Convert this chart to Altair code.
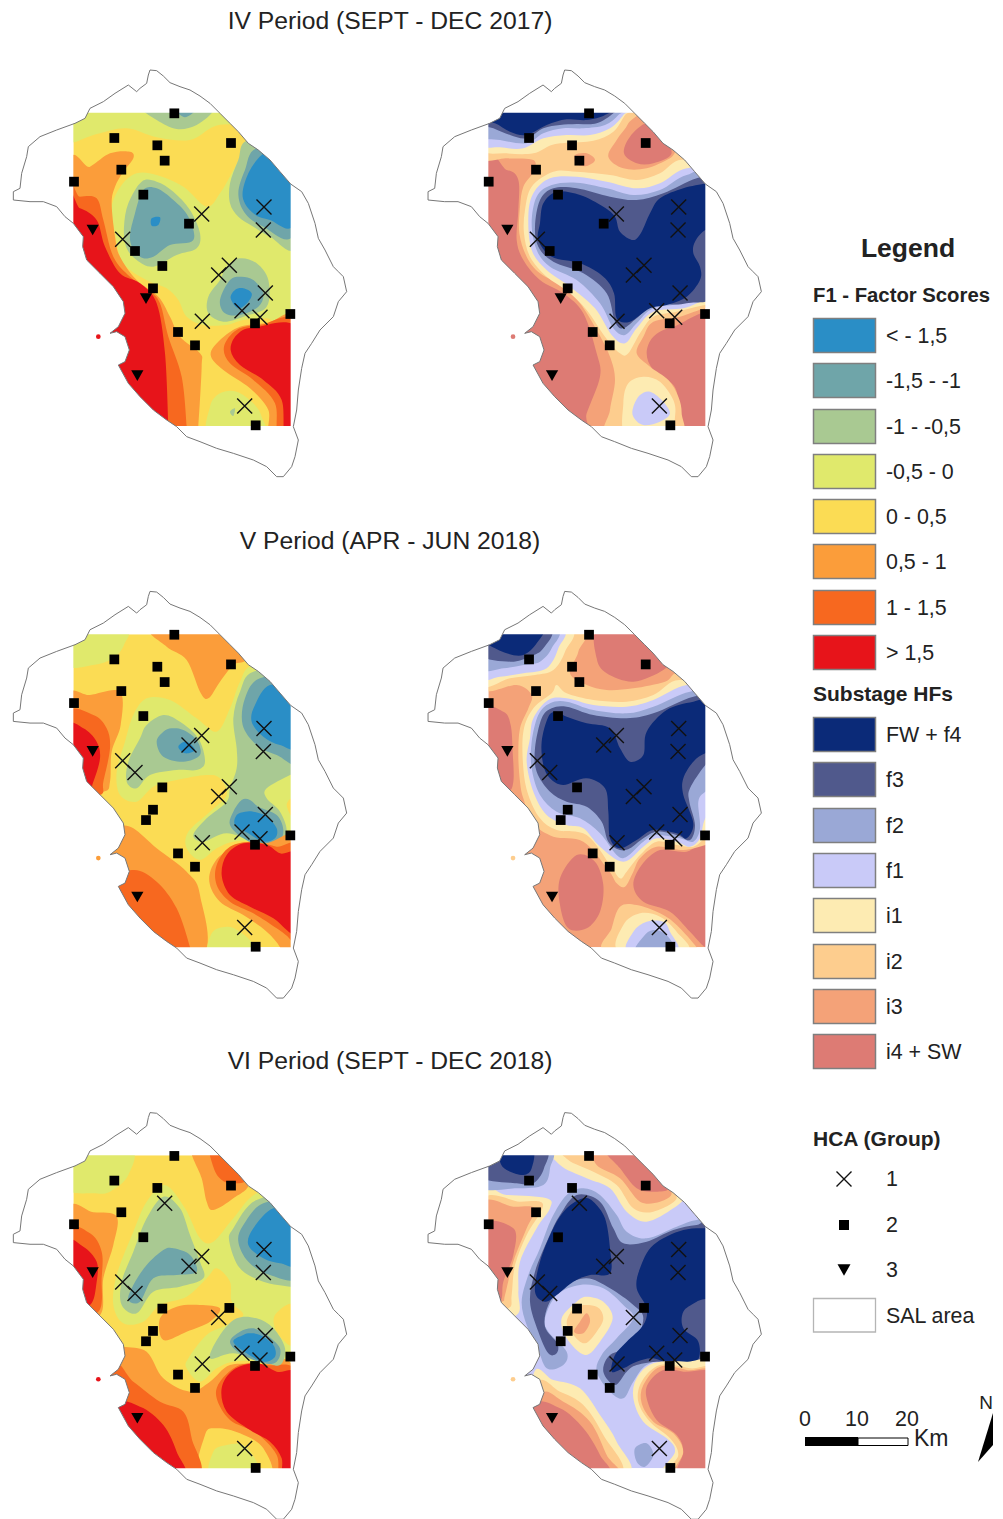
import altair as alt
import pandas as pd

alt.data_transformers.disable_max_rows()

# ---------- class names and colours ----------
F1_NAMES = ['< - 1,5', '-1,5 - -1', '-1 - -0,5', '-0,5 - 0', '0 - 0,5', '0,5 - 1', '1 - 1,5', '> 1,5']
F1_COLORS = ['#2a8ec6', '#6fa5a9', '#a9c992', '#e0e96c', '#fbdc54', '#fb9d3a', '#f7681f', '#e7141a']
HF_NAMES = ['FW + f4', 'f3', 'f2', 'f1', 'i1', 'i2', 'i3', 'i4 + SW']
HF_COLORS = ['#0b2a78', '#50598c', '#9aa8d6', '#c9caf8', '#fdebb2', '#fdcd8e', '#f4a278', '#dd7b74']
B, T, G, Y, L, O, R, D = F1_NAMES
W, F3, F2, F1, I1, I2, I3, I4 = HF_NAMES

# ---------- panels: offsets of the traced sheets ----------
PANEL_TITLES = ['IV Period (SEPT - DEC 2017)', 'V Period (APR - JUN 2018)', 'VI Period (SEPT - DEC 2018)']
TITLE_Y = [21, 540.5, 1060.5]
SHEET = [(0, 60), (420, 60), (0, 585), (420, 585), (0, 1105), (420, 1105)]
RECT = [(220, 872, 158, 1098), (205, 856, 158, 1098), (220, 872, 148, 1087),
        (205, 856, 148, 1087), (220, 872, 151, 1090), (205, 856, 151, 1090)]
SHIFT = [(0, 0), (414.7, 0), (0, 521.4), (414.7, 521.4), (0, 1042.6), (414.7, 1042.6)]
BASE = [L, I3, L, I3, L, F1]
ISLET = [D, I4, '0,5 - 1', I2, D, I2]

# ---------- coast, traced on the first panel ----------
COAST_N = [(450, 30), (470, 32), (490, 48), (510, 68), (540, 80), (570, 90), (600, 108)]
COAST_NE = [(630, 130), (660, 160), (690, 190), (715, 215), (745, 250), (775, 270), (810, 300), (840, 335), (872, 372)]
COAST_E = [(905, 395), (925, 430), (945, 490), (955, 535), (975, 570), (1000, 620), (1015, 635), (1030, 650),
           (1040, 695), (1015, 725), (1000, 770), (960, 810), (935, 850), (915, 880), (905, 925), (895, 990),
           (890, 1050), (880, 1100), (895, 1140), (885, 1190), (875, 1220), (850, 1250), (830, 1250), (800, 1220),
           (760, 1200), (700, 1180), (650, 1165), (600, 1145), (560, 1130)]
COAST_SW = [(530, 1100), (500, 1080), (460, 1050), (420, 1010), (385, 970), (355, 915), (375, 905), (388, 870),
            (375, 830), (350, 815), (330, 820), (355, 800), (375, 760), (370, 725), (340, 680), (300, 640),
            (260, 600), (248, 560), (250, 530), (220, 490)]
COAST_W = [(195, 470), (170, 440), (130, 425), (90, 425), (40, 420), (40, 395), (60, 385), (65, 340), (80, 290),
           (85, 260), (120, 230), (170, 210)]
COAST_NW = [(225, 190), (255, 175), (270, 145)]
COAST_TOP = [(310, 125), (345, 100), (385, 75), (410, 95), (420, 85), (440, 70), (445, 45)]

# ---------- contour classes, traced sheet by sheet, painted in list order ----------
MAP_1 = [
 (Y, [(200,245),(290,222),(380,205),(470,232),(570,240),(640,200),(700,195),(745,225),(720,290),(695,340),(660,400),(620,440),(550,380),(470,345),(410,340),(365,375),(335,440),(345,520),(360,590),(390,630),(450,665),(500,685),(535,720),(560,770),(610,795),(680,795),(730,780),(800,775),(890,770),(900,140),(200,140)]),
 (G, [(420,140),(470,180),(530,207),(590,195),(640,150),(600,130),(480,130)]),
 (T, [(530,150),(555,172),(585,150)]),
 (G, [(745,240),(715,300),(690,370),(690,430),(715,470),(760,500),(810,530),(890,555),(900,240)]),
 (T, [(770,265),(735,330),(715,400),(735,460),(790,500),(880,525),(900,270)]),
 (B, [(785,285),(745,340),(728,410),(760,460),(810,480),(880,495),(900,300),(840,260)]),
 (G, [(425,365),(385,430),(372,500),(378,560),(410,600),(460,620),(530,585),(590,565),(600,520),(570,450),(520,395),(470,365)]),
 (T, [(430,390),(405,460),(390,540),(420,590),(460,590),(510,555),(580,540),(565,470),(520,420),(470,385)]),
 (B, [(455,475),(480,472),(475,495),(455,497)]),
 (G, [(660,660),(625,710),(625,760),(670,785),(730,770),(800,740),(805,660),(770,610),(720,595),(680,620)]),
 (T, [(690,660),(660,720),(675,760),(720,765),(775,740),(790,700),(760,660),(725,650)]),
 (B, [(705,690),(692,715),(715,745),(745,725),(755,700),(730,685)]),
 (O, [(200,350),(270,320),(330,280),(390,275),(400,295),(370,335),(345,380),(335,430),(345,530),(360,590),(410,660),(475,710),(510,770),(540,830),(600,880),(605,920),(595,1098),(590,1130),(200,1130)]),
 (R, [(200,420),(240,410),(290,415),(310,480),(340,590),(390,650),(445,690),(480,730),(505,830),(545,950),(560,1098),(560,1130),(200,1130)]),
 (D, [(200,445),(240,445),(290,480),(315,560),(360,640),(420,670),(470,730),(495,880),(505,1098),(505,1130),(200,1130)]),
 (O, [(900,780),(800,790),(720,800),(660,840),(632,885),(670,930),(750,985),(805,1050),(810,1130),(900,1130)]),
 (R, [(900,795),(780,795),(710,810),(672,860),(690,910),(760,960),(825,1030),(835,1130),(900,1130)]),
 (D, [(900,815),(760,803),(710,825),(692,870),(720,915),(790,960),(845,1020),(855,1130),(900,1130)]),
 (Y, [(630,1130),(630,1040),(660,1000),(710,995),(760,1030),(785,1070),(790,1130)]),
 (G, [(690,1055),(705,1045),(700,1068)]),
]
MAP_2 = [
 (I4, [(180,330),(260,330),(295,360),(295,450),(290,540),(310,600),(360,660),(430,700),(490,760),(530,880),(540,950),(500,1060),(480,1130),(180,1130)]),
 (I4, [(900,775),(760,800),(700,830),(680,880),(700,930),(760,975),(775,1030),(775,1130),(900,1130)]),
 (I4, [(680,190),(630,230),(612,280),(650,310),(700,310),(755,280),(720,220)]),
 (I2, [(180,130),(640,130),(625,190),(590,240),(565,290),(610,325),(680,325),(750,295),(790,265),(900,350),(900,745),(856,745),(780,770),(700,785),(670,830),(650,880),(690,920),(745,960),(775,1010),(785,1060),(775,1130),(565,1130),(570,1050),(585,960),(570,890),(530,810),(480,730),(430,680),(360,640),(320,590),(298,520),(300,440),(310,380),(340,335),(340,300),(260,295),(180,290)]),
 (I3, [(465,285),(500,280),(525,300),(500,318),(470,312)]),
 (I1, [(180,130),(640,130),(615,165),(580,215),(520,242),(440,248),(395,255),(340,280),(260,280),(180,265)]),
 (F1, [(180,130),(625,130),(610,165),(570,205),(510,225),(440,225),(370,235),(310,265),(240,262),(180,250)]),
 (F2, [(180,130),(610,130),(595,165),(555,195),(490,205),(430,205),(370,220),(320,250),(240,240),(180,225)]),
 (F3, [(180,130),(600,130),(580,160),(530,190),(470,192),(420,195),(370,205),(320,235),(270,225),(220,205),(180,190)]),
 (W, [(240,130),(580,130),(555,165),(500,180),(440,178),(380,195),(320,225),(270,215),(225,190),(180,180)]),
 (I1, [(315,450),(335,380),(400,335),(470,335),(570,345),(650,360),(720,340),(790,300),(900,370),(900,735),(856,735),(770,755),(700,770),(660,820),(625,880),(600,880),(555,830),(500,750),(445,695),(380,650),(330,590),(312,520)]),
 (F1, [(325,470),(340,400),(390,355),(470,350),(560,365),(650,385),(720,370),(800,325),(900,345),(900,720),(856,720),(790,745),(700,755),(650,805),(615,850),(575,825),(525,745),(450,680),(380,630),(335,570)]),
 (F2, [(335,490),(350,410),(395,375),(470,368),(560,385),(640,405),(720,390),(800,345),(900,340),(900,690),(840,700),(790,730),(700,745),(650,790),(615,825),(580,805),(540,730),(470,660),(390,620),(350,570)]),
 (F3, [(345,500),(360,420),(400,385),(470,385),(570,410),(650,420),(730,400),(830,355),(900,350),(900,680),(800,730),(700,735),(650,775),(610,805),(585,785),(560,700),(490,640),(400,605),(355,560)]),
 (W, [(360,490),(370,430),(410,395),(480,405),(550,440),(585,470),(600,515),(640,540),(665,515),(690,460),(720,415),(790,385),(860,370),(900,360),(900,505),(856,510),(825,545),(820,580),(840,620),(840,660),(800,710),(740,735),(690,745),(630,785),(590,775),(582,700),(550,650),(480,610),(395,590),(355,540)]),
 (I1, [(620,1130),(610,1030),(625,970),(670,950),(720,965),(760,1020),(765,1070),(745,1130)]),
 (F1, [(640,1040),(660,1005),(690,995),(725,1020),(750,1060),(720,1085),(670,1095),(640,1070)]),
]
MAP_3 = [
 (Y, [(200,130),(375,130),(372,180),(340,220),(280,240),(200,240)]),
 (O, [(460,130),(500,185),(560,225),(600,320),(625,340),(660,290),(700,240),(740,220),(720,130)]),
 (O, [(200,340),(270,330),(360,320),(362,420),(335,500),(330,590),(310,620),(200,620)]),
 (R, [(200,390),(280,390),(320,430),(330,490),(310,590),(300,630),(200,630)]),
 (D, [(200,425),(250,430),(290,470),(300,520),(280,590),(265,610),(200,600)]),
 (O, [(350,720),(400,730),(470,790),(560,860),(600,930),(600,1120),(300,1120),(300,720)]),
 (R, [(330,900),(400,855),(470,890),(530,970),(570,1087),(570,1120),(330,1120)]),
 (Y, [(760,240),(720,290),(690,370),(650,440),(590,400),(510,345),(440,340),(400,390),(375,470),(350,560),(360,630),(410,650),(460,605),(530,585),(620,570),(660,580),(680,630),(630,680),(565,740),(560,790),(600,825),(650,790),(700,770),(760,770),(840,790),(872,765),(900,760),(900,240)]),
 (G, [(760,260),(720,320),(700,400),(710,490),(710,550),(690,610),(680,650),(620,700),(580,750),(610,770),(680,745),(760,770),(830,780),(860,740),(840,680),(800,640),(800,610),(870,570),(900,560),(900,260)]),
 (L, [(880,640),(860,660),(880,700)]),
 (T, [(780,280),(735,340),(728,420),(770,480),(830,510),(900,525),(900,280)]),
 (B, [(810,300),(765,360),(755,410),(790,455),(840,480),(900,485),(900,320)]),
 (T, [(700,680),(690,720),(730,760),(790,785),(835,775),(850,735),(830,690),(775,665),(750,645),(725,645)]),
 (B, [(710,690),(705,720),(745,745),(790,770),(825,760),(830,730),(800,695),(760,680),(735,680)]),
 (G, [(420,460),(385,530),(380,590),(410,610),(450,570),(530,555),(590,555),(615,530),(595,460),(540,410),(490,390),(440,420)]),
 (T, [(490,440),(470,470),(490,515),(550,530),(600,510),(590,465),(550,435),(515,430)]),
 (B, [(535,485),(560,470),(585,495),(555,505)]),
 (O, [(900,770),(800,775),(700,790),(645,830),(628,890),(660,950),(730,990),(800,1040),(840,1087),(840,1120),(900,1120)]),
 (Y, [(632,1120),(635,1045),(680,1025),(720,1040),(770,1087),(770,1120)]),
 (R, [(900,800),(830,785),(760,770),(690,785),(650,840),(650,900),(690,950),(760,985),(830,1030),(872,1065),(900,1120)]),
 (D, [(900,820),(840,805),(800,780),(730,775),(680,810),(665,870),(690,930),(750,965),(820,1000),(872,1045),(900,1050)]),
]
MAP_4 = [
 (I4, [(535,130),(530,220),(560,265),(640,290),(730,255),(745,220),(680,130)]),
 (I4, [(180,380),(250,380),(272,420),(278,500),(280,590),(260,620),(180,620)]),
 (I4, [(470,810),(525,830),(550,900),(540,980),(500,1030),(445,1030),(420,960),(420,880)]),
 (I4, [(900,770),(800,800),(720,795),(665,840),(640,900),(670,950),(750,980),(810,1040),(856,1087),(900,1100)]),
 (I2, [(180,130),(480,130),(475,200),(450,265),(500,300),(560,315),(640,310),(735,290),(780,265),(900,330),(900,760),(856,780),(790,795),(710,785),(660,820),(640,860),(615,905),(590,895),(565,855),(490,770),(400,755),(340,715),(310,640),(300,590),(295,510),(300,430),(325,370),(335,330),(290,300),(180,310)]),
 (I2, [(560,1100),(575,1030),(600,965),(650,960),(720,985),(770,1020),(830,1087),(830,1100)]),
 (I1, [(600,1100),(610,1020),(660,985),(720,995),(770,1040),(800,1100)]),
 (F1, [(625,1100),(640,1040),(680,1010),(730,1010),(750,1040),(770,1100)]),
 (F2, [(650,1100),(670,1055),(700,1035),(740,1050),(760,1100)]),
 (I1, [(180,130),(445,130),(435,200),(400,255),(345,270),(270,280),(180,300)]),
 (I1, [(410,300),(440,325),(520,345),(620,350),(700,330),(780,285),(900,340),(900,735),(856,760),(820,785),(770,780),(710,770),(660,810),(620,860),(600,880),(570,840),(500,750),(410,735),(360,700),(325,630),(310,550),(310,440),(340,370),(395,325)]),
 (F1, [(180,130),(420,130),(415,190),(380,250),(310,265),(240,275),(180,275)]),
 (F2, [(180,130),(405,130),(395,190),(360,230),(310,240),(250,250),(180,250)]),
 (F3, [(180,130),(385,130),(370,190),(330,215),(270,230),(180,210)]),
 (W, [(240,130),(365,130),(350,175),(310,210),(260,205),(205,180),(180,170)]),
 (F1, [(340,400),(330,460),(320,530),(340,620),(380,690),(440,720),(490,730),(540,785),(610,830),(670,785),(710,760),(770,770),(810,785),(840,760),(856,700),(900,650),(900,320),(800,300),(700,345),(620,365),(520,360),(440,340),(385,345)]),
 (F2, [(355,390),(335,470),(335,550),(360,630),(410,680),(480,700),(540,745),(590,810),(620,815),(670,770),(710,750),(780,760),(820,770),(840,730),(835,650),(856,620),(900,600),(900,330),(810,320),(700,365),(620,385),(520,375),(440,350),(390,355)]),
 (F3, [(365,400),(345,490),(350,560),(390,620),(440,650),(500,665),(545,710),(565,770),(600,795),(630,790),(670,760),(710,740),(770,750),(810,765),(825,720),(808,650),(810,610),(856,540),(900,500),(900,340),(820,335),(700,385),(620,400),(520,390),(440,365),(395,370)]),
 (W, [(385,395),(365,470),(370,540),(390,580),(430,600),(500,580),(555,610),(565,680),(570,760),(600,790),(650,765),(700,735),(770,745),(800,760),(820,715),(790,630),(790,580),(820,530),(856,505),(900,500),(900,345),(820,350),(740,375),(680,440),(670,510),(630,530),(600,490),(570,430),(500,415),(440,395),(410,380)]),
]
MAP_5 = [
 (Y, [(200,130),(390,130),(385,210),(330,260),(280,265),(200,250)]),
 (O, [(575,130),(660,130),(745,230),(700,280),(640,315),(620,290),(605,220)]),
 (R, [(630,130),(670,130),(740,220),(690,235),(655,215),(635,170)]),
 (O, [(200,320),(280,322),(350,335),(340,420),(310,520),(300,630),(200,640)]),
 (R, [(200,380),(270,385),(305,440),(305,520),(295,620),(200,620)]),
 (D, [(200,415),(250,425),(290,470),(290,530),(270,600),(200,600)]),
 (Y, [(495,240),(440,290),(400,380),(350,510),(340,600),(370,655),(430,650),(480,600),(560,575),(620,520),(650,490),(690,530),(695,590),(730,630),(680,660),(620,690),(565,760),(560,790),(600,830),(650,790),(700,770),(780,770),(840,790),(872,770),(900,760),(900,240),(770,265),(700,340),(640,410),(600,400),(555,310)]),
 (L, [(880,600),(825,630),(830,680),(880,720)]),
 (O, [(480,640),(530,605),(600,600),(660,610),(630,650),(560,680),(490,705)]),
 (O, [(330,720),(370,725),(440,740),(490,820),(570,860),(630,830),(690,780),(780,780),(880,790),(900,1120),(300,1120)]),
 (L, [(605,1120),(615,990),(650,970),(720,985),(790,1030),(805,1120)]),
 (Y, [(635,1120),(640,1040),(680,1020),(730,1020),(770,1070),(780,1120)]),
 (R, [(340,790),(400,830),(480,890),(550,920),(575,1000),(590,1120),(330,1120)]),
 (D, [(340,905),(420,905),(490,960),(530,1040),(548,1120),(340,1120)]),
 (R, [(900,815),(800,780),(720,780),(660,830),(650,880),(690,945),(770,985),(830,1050),(840,1120),(900,1120)]),
 (D, [(900,825),(830,800),(770,775),(700,795),(665,850),(680,920),(750,975),(810,1010),(845,1060),(848,1120),(900,1120)]),
 (G, [(490,275),(440,340),(400,440),(365,530),(365,600),(410,625),(460,560),(540,545),(610,520),(600,470),(570,390),(540,310)]),
 (T, [(490,435),(440,480),(400,540),(385,585),(420,590),(460,520),(530,510),(590,500),(570,450),(520,430)]),
 (G, [(770,285),(700,370),(688,410),(720,490),(790,530),(872,545),(900,545),(900,290)]),
 (T, [(790,295),(730,360),(715,410),(745,470),(810,510),(900,510),(900,300)]),
 (B, [(820,310),(760,370),(745,420),(790,460),(840,475),(900,475),(900,320)]),
 (G, [(710,640),(660,690),(630,760),(700,745),(790,770),(840,780),(855,730),(820,670),(770,640)]),
 (T, [(720,680),(690,710),(720,745),(790,775),(830,770),(840,730),(800,690),(760,670)]),
 (B, [(730,690),(700,710),(740,745),(790,770),(825,755),(820,720),(780,690),(750,685)]),
]
MAP_6 = [
 (I1, [(410,130),(420,180),(500,220),(570,250),(620,320),(680,350),(760,310),(800,270),(780,240),(680,130)]),
 (I2, [(440,130),(445,165),(520,200),(590,240),(640,310),(700,320),(770,280),(730,230),(670,130)]),
 (I3, [(530,130),(530,180),(600,220),(660,290),(720,290),(755,265),(720,220),(670,130)]),
 (I4, [(555,130),(600,190),(650,250),(700,260),(745,250),(700,190),(670,130)]),
 (I1, [(180,270),(260,270),(380,280),(390,310),(350,370),(300,470),(295,560),(290,630),(180,640)]),
 (I2, [(180,295),(300,290),(360,290),(365,315),(320,390),(285,480),(275,570),(265,610),(180,610)]),
 (I3, [(180,305),(280,305),(345,310),(320,370),(280,470),(255,570),(245,590),(180,590)]),
 (I4, [(180,365),(280,370),(280,450),(250,530),(240,590),(180,590)]),
 (F2, [(180,245),(290,250),(370,240),(390,190),(385,130),(180,130)]),
 (F3, [(180,215),(290,235),(340,235),(372,190),(370,130),(180,130)]),
 (W, [(240,130),(335,130),(335,190),(310,210),(260,195),(240,170)]),
 (F2, [(440,270),(395,340),(360,430),(325,510),(305,590),(320,660),(350,720),(380,790),(430,780),(440,740),(385,680),(375,640),(410,570),(480,540),(550,550),(610,600),(640,640),(590,700),(545,750),(530,800),(570,860),(610,880),(640,830),(680,780),(760,760),(900,790),(900,350),(830,345),(770,365),(680,400),(620,380),(590,330),(540,270),(490,250)]),
 (F3, [(470,270),(420,330),(385,400),(345,500),(330,590),(355,680),(385,745),(410,745),(412,715),(375,665),(385,600),(430,545),(500,520),(570,550),(640,600),(670,640),(640,720),(570,750),(550,800),(585,840),(620,800),(650,780),(720,770),(800,780),(900,780),(900,360),(830,360),(760,375),(680,410),(610,415),(580,370),(540,290)]),
 (W, [(490,280),(440,310),(400,370),(360,470),(345,560),(375,590),(410,570),(460,530),(510,510),(570,505),(570,430),(555,340),(520,290)]),
 (W, [(880,370),(790,375),(700,420),(660,490),(650,550),(680,610),(670,660),(620,710),(585,750),(575,800),(610,790),(650,770),(700,760),(760,780),(830,770),(835,710),(790,670),(790,620),(830,590),(900,550),(900,370)]),
 (I1, [(470,590),(425,640),(440,700),(495,750),(540,710),(578,640),(550,590),(500,575)]),
 (I2, [(470,605),(440,650),(460,690),(495,715),(530,680),(550,640),(530,605)]),
 (I3, [(480,650),(500,625),(510,650),(490,685),(462,680)]),
 (I1, [(340,810),(400,825),(480,850),(540,930),(590,1010),(620,1110),(330,1110)]),
 (I2, [(350,840),(420,860),(490,900),(550,990),(600,1110),(330,1110)]),
 (I3, [(360,875),(430,890),(510,950),(560,1050),(585,1110),(330,1110)]),
 (I4, [(340,905),(420,910),(490,970),(540,1050),(560,1110),(340,1110)]),
 (I1, [(900,790),(800,770),(700,775),(650,820),(640,880),(670,950),(740,1000),(765,1040),(730,1110),(900,1110)]),
 (I2, [(900,810),(810,790),(720,780),(665,830),(655,890),(690,950),(750,1000),(775,1050),(745,1110),(900,1110)]),
 (I3, [(900,820),(800,795),(720,785),(670,840),(665,895),(700,950),(760,985),(790,1040),(765,1110),(900,1110)]),
 (I4, [(900,825),(790,800),(730,795),(685,835),(680,880),(710,945),(770,990),(790,1040),(775,1110),(900,1110)]),
 (F2, [(645,1030),(680,1015),(700,1050),(675,1085),(650,1070)]),
]
MAPS = [MAP_1, MAP_2, MAP_3, MAP_4, MAP_5, MAP_6]

# ---------- sampling sites (traced on the first panel) and HCA groups ----------
SITES = {'a':(523,160),'b':(343,234),'c':(472,256),'d':(494,302),'e':(693,249),'f':(364,329),'g':(222,365),
         'h':(430,404),'i':(567,491),'j':(405,573),'k':(487,618),'l':(459,685),'m':(534,816),'n':(585,856),
         'o':(765,790),'p':(871,762),'q':(767,1096),'r':(605,462),'s':(792,441),'t':(790,510),'u':(368,538),
         'v':(688,616),'w':(656,645),'x':(796,699),'y':(726,752),'z':(780,772),'A':(607,784),'C':(734,1038),
         'E':(278,510),'F':(438,716),'H':(412,947)}
GROUP_1 = ['rstuvwxyzAC', 'rstuvwxyzAC' + 'ij', 'rstuwxyzAC' + 'ijd']
GROUP_3 = ['EFH', 'EH', 'EH']

# ---------- legend ----------
LEG_F1_Y = [336, 381, 427, 472, 517, 562, 608, 653]
LEG_HF_Y = [735, 780, 826, 871, 916, 962, 1007, 1052]

FILL_DOMAIN = F1_NAMES + HF_NAMES + ['white']
FILL_RANGE = F1_COLORS + HF_COLORS + ['#ffffff']

sx = alt.Scale(domain=[8, 995], nice=False, zero=False)
sy = alt.Scale(domain=[1519, 8], nice=False, zero=False)
X = alt.X('x:Q', scale=sx, axis=None)
Y_ = alt.Y('y:Q', scale=sy, axis=None)
FILL = alt.Fill('c:N', scale=alt.Scale(domain=FILL_DOMAIN, range=FILL_RANGE), legend=None)


def sheet_xy(p, zx, zy):
    return SHEET[p][0] + zx / 3, SHEET[p][1] + zy / 3


def coast_xy(p, zx, zy):
    return zx / 3 + SHIFT[p][0], 60 + zy / 3 + SHIFT[p][1]


poly_rows, rect_rows, frame_rows, mask_rows, coast_rows, islet_rows = [], [], [], [], [], []
sq_rows, x_rows, tri_rows = [], [], []

for p in range(6):
    x0, x1, y0, y1 = RECT[p]
    ax0, ay0 = sheet_xy(p, x0, y0)
    ax1, ay1 = sheet_xy(p, x1, y1)
    rect_rows.append(dict(x=ax0, x2=ax1, y=ay0, y2=ay1, c=BASE[p]))
    for k, (c, pts) in enumerate(MAPS[p]):
        for i, (zx, zy) in enumerate(pts):
            ax, ay = sheet_xy(p, zx, zy)
            poly_rows.append(dict(id=f'{p}-{k:03d}', i=i, x=ax, y=ay, c=c))
    m = 42
    frame_rows += [dict(x=ax0 - m, x2=ax0, y=ay0 - m, y2=ay1 + m, c='white'),
                   dict(x=ax1, x2=ax1 + m, y=ay0 - m, y2=ay1 + m, c='white'),
                   dict(x=ax0 - m, x2=ax1 + m, y=ay0 - m, y2=ay0, c='white'),
                   dict(x=ax0 - m, x2=ax1 + m, y=ay1, y2=ay1 + m, c='white')]
    masks = [COAST_SW + [(190, 490), (190, 1130), (530, 1130)],
             COAST_NE + [(900, 372), (900, 130)],
             [(200, 192)] + COAST_NW + [(200, 145)]]
    for k, pts in enumerate(masks):
        for i, (zx, zy) in enumerate(pts):
            ax, ay = coast_xy(p, zx, zy)
            mask_rows.append(dict(id=f'{p}-{k}', i=i, x=ax, y=ay, c='white'))
    outline = COAST_N + COAST_NE + COAST_E + COAST_SW + COAST_W + COAST_NW + COAST_TOP
    for i, (zx, zy) in enumerate(outline):
        ax, ay = coast_xy(p, zx, zy)
        coast_rows.append(dict(id=str(p), i=i, x=ax, y=ay))
    ax, ay = coast_xy(p, 295, 830)
    islet_rows.append(dict(x=ax, y=ay, c=ISLET[p]))
    row = p // 2
    for key, (zx, zy) in SITES.items():
        ax, ay = coast_xy(p, zx, zy)
        d = dict(x=ax, y=ay)
        if key in GROUP_1[row]:
            x_rows.append(d)
        elif key in GROUP_3[row]:
            tri_rows.append(d)
        else:
            sq_rows.append(d)

layers = []
layers.append(alt.Chart(pd.DataFrame(rect_rows)).mark_rect().encode(x=X, x2='x2:Q', y=Y_, y2='y2:Q', fill=FILL))
layers.append(alt.Chart(pd.DataFrame(poly_rows)).mark_line(filled=True, interpolate='cardinal-closed', strokeWidth=0)
              .encode(x=X, y=Y_, fill=FILL, detail='id:N', order='i:Q'))
layers.append(alt.Chart(pd.DataFrame(frame_rows)).mark_rect().encode(x=X, x2='x2:Q', y=Y_, y2='y2:Q', fill=FILL))
layers.append(alt.Chart(pd.DataFrame(mask_rows)).mark_line(filled=True, interpolate='linear-closed', strokeWidth=0)
              .encode(x=X, y=Y_, fill=FILL, detail='id:N', order='i:Q'))
layers.append(alt.Chart(pd.DataFrame(coast_rows)).mark_line(interpolate='linear-closed', stroke='#777777', strokeWidth=1)
              .encode(x=X, y=Y_, detail='id:N', order='i:Q'))
layers.append(alt.Chart(pd.DataFrame(islet_rows)).mark_point(filled=True, size=22, opacity=1).encode(x=X, y=Y_, fill=FILL))

CROSS = 'M-1,-1L1,1M-1,1L1,-1'
x_rows.append(dict(x=844, y=1179))
sq_rows_leg = dict(x=844, y=1225)
tri_rows_leg = dict(x=844, y=1270)
layers.append(alt.Chart(pd.DataFrame(x_rows)).mark_point(shape=CROSS, size=225, stroke='#111111', strokeWidth=1.4, opacity=1).encode(x=X, y=Y_))
layers.append(alt.Chart(pd.DataFrame(sq_rows)).mark_point(shape='square', filled=True, size=95, fill='#000000', opacity=1).encode(x=X, y=Y_))
layers.append(alt.Chart(pd.DataFrame(tri_rows)).mark_point(shape='triangle-down', filled=True, size=150, fill='#000000', opacity=1).encode(x=X, y=Y_))
layers.append(alt.Chart(pd.DataFrame([sq_rows_leg])).mark_point(shape='square', filled=True, size=100, fill='#000000', opacity=1).encode(x=X, y=Y_))
layers.append(alt.Chart(pd.DataFrame([tri_rows_leg])).mark_point(shape='triangle-down', filled=True, size=170, fill='#000000', opacity=1).encode(x=X, y=Y_))

# legend swatches
sw_rows = [dict(x=813.5, x2=875.5, y=yy - 17.5, y2=yy + 16.5, c=c) for yy, c in zip(LEG_F1_Y, F1_NAMES)]
sw_rows += [dict(x=813.5, x2=875.5, y=yy - 17.5, y2=yy + 16.5, c=c) for yy, c in zip(LEG_HF_Y, HF_NAMES)]
layers.append(alt.Chart(pd.DataFrame(sw_rows)).mark_rect(stroke='#7f7f7f', strokeWidth=1.5).encode(x=X, x2='x2:Q', y=Y_, y2='y2:Q', fill=FILL))
layers.append(alt.Chart(pd.DataFrame([dict(x=813.5, x2=875.5, y=1298.5, y2=1332)])).mark_rect(fill='#ffffff', stroke='#b5b5b5', strokeWidth=1.3)
              .encode(x=X, x2='x2:Q', y=Y_, y2='y2:Q'))
# scale bar
layers.append(alt.Chart(pd.DataFrame([dict(x=805, x2=858, y=1437, y2=1446)])).mark_rect(fill='#000000').encode(x=X, x2='x2:Q', y=Y_, y2='y2:Q'))
layers.append(alt.Chart(pd.DataFrame([dict(x=858, x2=908, y=1438, y2=1445.5)])).mark_rect(fill='#ffffff', stroke='#000000', strokeWidth=1).encode(x=X, x2='x2:Q', y=Y_, y2='y2:Q'))
# north arrow (the page ends 8 px short of the window edge, so it sits just inside)
NORTH_L = [(993, 1413), (978, 1462), (993, 1445)]
layers.append(alt.Chart(pd.DataFrame([dict(x=a, y=b, i=i) for i, (a, b) in enumerate(NORTH_L)]))
              .mark_line(filled=True, interpolate='linear-closed', fill='#000000', strokeWidth=0).encode(x=X, y=Y_, order='i:Q'))


def text_layer(rows, bold=False, align='left'):
    rows = [dict(r, y=r['y'] + 1) for r in rows]
    return alt.Chart(pd.DataFrame(rows)).mark_text(
        font='Liberation Sans', align=align, baseline='middle', fontWeight='bold' if bold else 'normal', fill='#222222'
    ).encode(x=X, y=Y_, text='t:N', size=alt.Size('s:Q', scale=None, legend=None))


FS = 21.4
reg_left = [dict(t=n, x=886, y=yy, s=FS) for n, yy in zip(F1_NAMES, LEG_F1_Y)]
reg_left += [dict(t=n, x=886, y=yy, s=FS) for n, yy in zip(HF_NAMES, LEG_HF_Y)]
reg_left += [dict(t='1', x=886, y=1179, s=FS), dict(t='2', x=886, y=1225, s=FS), dict(t='3', x=886, y=1270, s=FS),
             dict(t='SAL area', x=886, y=1316, s=FS), dict(t='Km', x=914, y=1438, s=23)]
reg_right = [dict(t='N', x=993, y=1402, s=19)]
reg_center = [dict(t=t, x=390, y=yy, s=24.7) for t, yy in zip(PANEL_TITLES, TITLE_Y)]
reg_center += [dict(t='0', x=805, y=1419, s=FS), dict(t='10', x=857, y=1419, s=FS), dict(t='20', x=907, y=1419, s=FS)]
bold_left = [dict(t='F1 - Factor Scores', x=813, y=295, s=20.3), dict(t='Substage HFs', x=813, y=694, s=21),
             dict(t='HCA (Group)', x=813, y=1139, s=21)]
bold_center = [dict(t='Legend', x=908, y=248, s=26.5)]
layers += [text_layer(reg_left), text_layer(reg_right, align='right'), text_layer(reg_center, align='center'), text_layer(bold_left, bold=True),
           text_layer(bold_center, bold=True, align='center')]

chart = alt.layer(*layers).properties(width=987, height=1511, padding=0, autosize=alt.AutoSizeParams(type='none')).configure_view(stroke=None)
chart.save('out.html', embed_options={'renderer': 'svg', 'actions': False})
